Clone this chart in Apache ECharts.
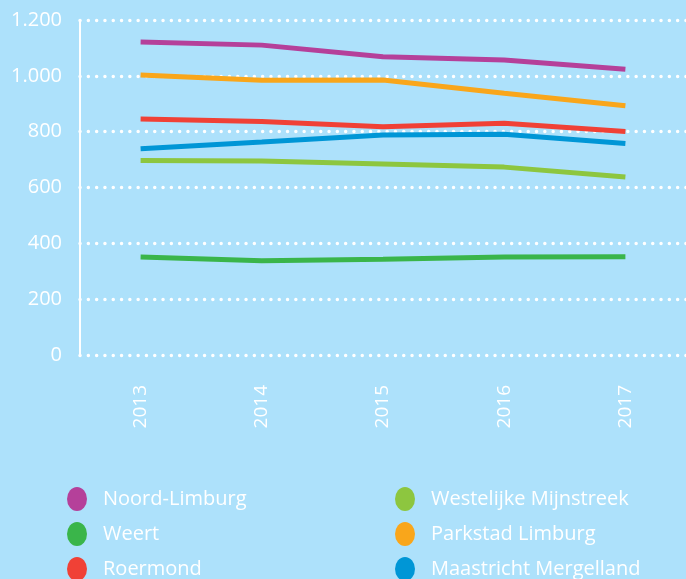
<!DOCTYPE html>
<html>
<head>
<meta charset="utf-8">
<script src="https://cdn.jsdelivr.net/npm/echarts@6/dist/echarts.min.js"></script>
<style>
  html, body { margin: 0; padding: 0; background: #ade1fb; }
  #chart { width: 686px; height: 579px; }
</style>
</head>
<body>
<div id="chart"></div>
<script>
// jaren
const years = ['2013', '2014', '2015', '2016', '2017']
// y-as labels
const yTicks = [0, 200, 400, 600, 800, 1000, 1200]

const noordLimburg = [1121, 1110, 1068, 1057, 1024]
const weert = [351, 338, 343, 351, 352]
const roermond = [845, 836, 818, 830, 801]
const westelijkeMijnstreek = [697, 695, 684, 673, 638]
const parkstadLimburg = [1003, 984, 985, 938, 893]
const maastrichtMergelland = [739, 763, 788, 791, 758]

const names = ['Noord-Limburg', 'Weert', 'Roermond', 'Westelijke Mijnstreek', 'Parkstad Limburg', 'Maastricht Mergelland']
const colors = ['#b5409a', '#3ab54a', '#f04136', '#8dc63f', '#f9a61b', '#0096d6']
const values = [noordLimburg, weert, roermond, westelijkeMijnstreek, parkstadLimburg, maastrichtMergelland]

const font = '"Open Sans", Roboto, sans-serif'
const chart = echarts.init(document.getElementById('chart'))

// punt-notatie voor duizendtallen
const fmt = v => String(v).replace(/\B(?=(\d{3})+(?!\d))/g, '.')

const legendBase = {
  orient: 'vertical',
  top: 482,
  height: 100,
  itemWidth: 20,
  itemHeight: 24,
  itemGap: 11,
  icon: 'path://M10,0A10,12 0 1,1 10,24A10,12 0 1,1 10,0Z',
  textStyle: { color: '#fff', fontSize: 20, fontFamily: font, padding: [0, 0, 0, 11] }
}

chart.setOption({
  backgroundColor: '#ade1fb',
  color: colors,
  animation: false,
  grid: { left: 80, right: 0, top: 20, bottom: 224 },
  legend: [
    Object.assign({}, legendBase, { left: 62, data: names.slice(0, 3) }),
    Object.assign({}, legendBase, { left: 390, data: names.slice(3) })
  ],
  xAxis: {
    type: 'category',
    data: years,
    boundaryGap: true,
    axisLine: { show: false },
    axisTick: { show: false },
    axisLabel: { rotate: 90, margin: 30, color: '#fff', fontSize: 19, fontFamily: font }
  },
  yAxis: {
    type: 'value',
    min: yTicks[0],
    max: yTicks[yTicks.length - 1],
    interval: 200,
    axisLine: { show: true, lineStyle: { color: '#fff', width: 2 } },
    axisTick: { show: false },
    axisLabel: { margin: 18, color: '#fff', fontSize: 20, fontFamily: font, formatter: fmt },
    splitLine: {
      lineStyle: { color: '#fff', width: 3.4, type: [0.1, 8.2], cap: 'round' }
    }
  },
  series: names.map((n, i) => ({
    name: n,
    type: 'line',
    data: values[i],
    showSymbol: false,
    symbol: 'none',
    lineStyle: { width: 5, color: colors[i] },
    itemStyle: { color: colors[i] }
  }))
})
</script>
</body>
</html>
